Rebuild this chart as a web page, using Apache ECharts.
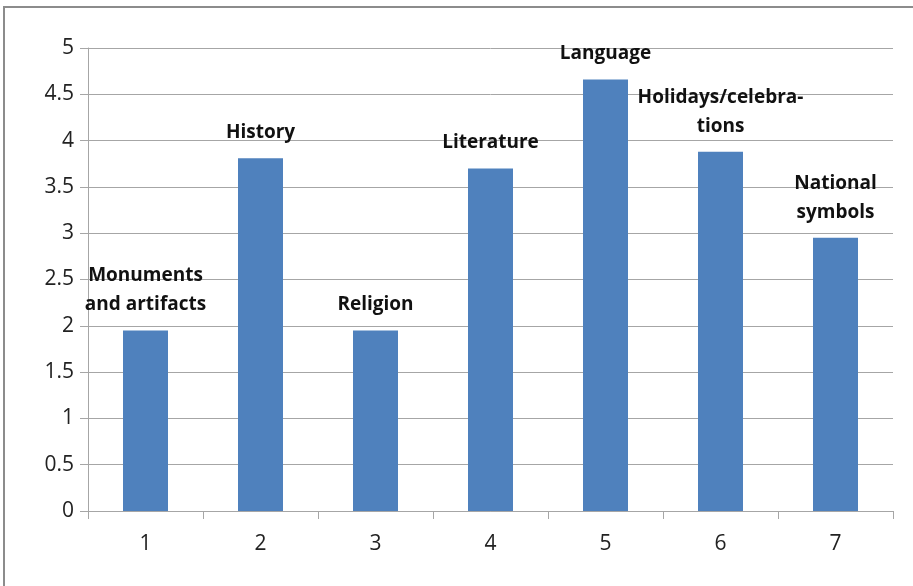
<!DOCTYPE html>
<html>
<head>
<meta charset="utf-8">
<script src="https://cdn.jsdelivr.net/npm/echarts@6/dist/echarts.min.js"></script>
<style>
  html, body { margin: 0; padding: 0; background: #fff; }
  #chart { width: 913px; height: 586px; }
</style>
</head>
<body>
<div id="chart"></div>
<script>
// categories along the x axis, bar values and the text over each bar
var categories = ['1', '2', '3', '4', '5', '6', '7'];
var values = [1.95, 3.81, 1.95, 3.70, 4.66, 3.88, 2.95];
var barNames = [
    'Monuments\nand artifacts',
    'History',
    'Religion',
    'Literature',
    'Language',
    'Holidays/celebra-\ntions',
    'National\nsymbols'
];

var chart = echarts.init(document.getElementById('chart'));

var lineColor = '#a6a6a6';
var textColor = '#222';

var option = {
    backgroundColor: '#fff',
    animation: false,
    graphic: [{
        type: 'rect',
        shape: { x: 4, y: 7, width: 1200, height: 1200 },
        style: { fill: 'none', stroke: '#8c8c8c', lineWidth: 2 },
        silent: true
    }],
    grid: {
        left: 88,
        right: 20,
        top: 48,
        bottom: 75
    },
    xAxis: {
        type: 'category',
        data: categories,
        axisLine: { lineStyle: { color: lineColor, width: 1 } },
        axisTick: { show: true, length: 8, lineStyle: { color: lineColor } },
        axisLabel: {
            color: textColor,
            fontFamily: 'Open Sans',
            fontSize: 21,
            margin: 23
        }
    },
    yAxis: {
        type: 'value',
        min: 0,
        max: 5,
        interval: 0.5,
        axisLine: { show: true, lineStyle: { color: lineColor, width: 1 } },
        axisTick: { show: true, length: 8, lineStyle: { color: lineColor } },
        splitLine: { lineStyle: { color: lineColor, width: 1 } },
        axisLabel: {
            color: textColor,
            fontFamily: 'Open Sans',
            fontSize: 21,
            margin: 14
        }
    },
    series: [{
        type: 'bar',
        data: values,
        barWidth: 45,
        itemStyle: { color: '#4f81bd' },
        label: {
            show: true,
            position: 'top',
            distance: 11,
            color: '#111',
            fontFamily: 'Open Sans',
            fontWeight: 'bold',
            fontSize: 19,
            lineHeight: 29,
            align: 'center',
            formatter: function(p) {
                return barNames[p.dataIndex];
            }
        }
    }]
};

chart.setOption(option);
</script>
</body>
</html>
